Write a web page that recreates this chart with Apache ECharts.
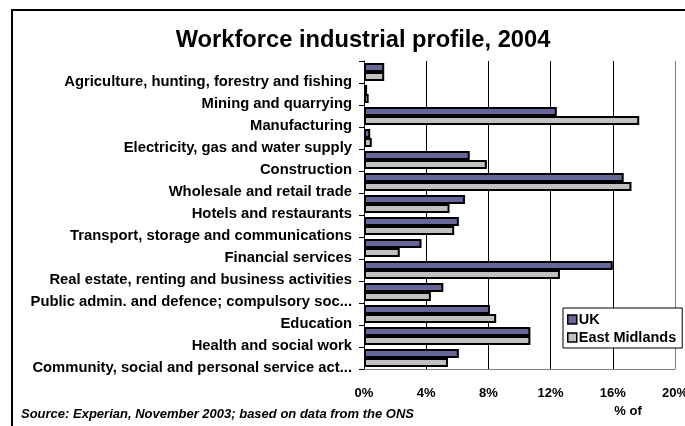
<!DOCTYPE html>
<html>
<head>
<meta charset="utf-8">
<script src="https://cdn.jsdelivr.net/npm/echarts@6/dist/echarts.min.js"></script>
<style>
  html, body { margin: 0; padding: 0; background: #fff; }
  #chart { width: 685px; height: 426px; }
</style>
</head>
<body>
<div id="chart"></div>
<script>
// Industries, listed top to bottom
const industries = [
  'Agriculture, hunting, forestry and fishing',
  'Mining and quarrying',
  'Manufacturing',
  'Electricity, gas and water supply',
  'Construction',
  'Wholesale and retail trade',
  'Hotels and restaurants',
  'Transport, storage and communications',
  'Financial services',
  'Real estate, renting and business activities',
  'Public admin. and defence; compulsory soc...',
  'Education',
  'Health and social work',
  'Community, social and personal service act...'
];

// Share of the workforce (%) by industry
const ukShare = [1.3, 0.2, 12.4, 0.4, 6.8, 16.7, 6.5, 6.1, 3.7, 16.0, 5.1, 8.1, 10.7, 6.1];
const eastMidlandsShare = [1.3, 0.3, 17.7, 0.5, 7.9, 17.2, 5.5, 5.8, 2.3, 12.6, 4.3, 8.5, 10.7, 5.4];

const seriesNames = ['UK', 'East Midlands'];
const xTicks = { min: 0, max: 20, interval: 4 };

const FONT = 'Liberation Sans, Arial, sans-serif';

const chart = echarts.init(document.getElementById('chart'), null, { renderer: 'canvas' });

chart.setOption({
  animation: false,
  backgroundColor: '#fff',
  title: {
    text: 'Workforce industrial profile, 2004',
    left: 358,
    top: 23,
    textAlign: 'center',
    textStyle: { fontFamily: FONT, fontSize: 23.7, fontWeight: 'bold', color: '#000' }
  },
  // plot area runs to the right edge; the last tick label is allowed to spill over
  grid: { left: 364, right: 10, top: 61, bottom: 57, containLabel: false, outerBoundsMode: 'none' },
  legend: {
    orient: 'vertical',
    left: 563,
    top: 308,
    width: 110,
    backgroundColor: '#fff',
    borderColor: '#000',
    borderWidth: 1,
    padding: [4, 6, 3, 4],
    itemWidth: 9,
    itemHeight: 9,
    itemGap: 3,
    icon: 'rect',
    align: 'left',
    itemStyle: { borderColor: '#000', borderWidth: 1.5 },
    textStyle: { fontFamily: FONT, fontSize: 14.5, fontWeight: 'bold', color: '#000', padding: [0, 0, 0, -3] },
    data: seriesNames
  },
  xAxis: {
    type: 'value',
    min: xTicks.min,
    max: xTicks.max,
    interval: xTicks.interval,
    axisLine: { show: true, lineStyle: { color: '#808080', width: 1 } },
    axisTick: { show: false },
    axisLabel: {
      margin: 18,
      formatter: '{value}%',
      fontFamily: FONT, fontSize: 13, fontWeight: 'bold', color: '#000'
    },
    splitLine: {
      show: true,
      lineStyle: { color: ['#000', '#000', '#000', '#000', '#000', '#808080'], width: 1 }
    }
  },
  yAxis: {
    type: 'category',
    inverse: true,
    data: industries,
    axisLine: { show: true, lineStyle: { color: '#000', width: 1 } },
    axisTick: { show: true, length: 5, lineStyle: { color: '#000' } },
    axisLabel: {
      margin: 12,
      verticalAlign: 'top',
      lineHeight: 20,
      fontFamily: FONT, fontSize: 14.8, fontWeight: 'bold', color: '#000'
    },
    splitLine: { show: false }
  },
  graphic: [
    {
      type: 'rect',
      shape: { x: 12, y: 10, width: 720, height: 480 },
      style: { fill: 'none', stroke: '#000', lineWidth: 2 },
      silent: true
    },
    {
      type: 'text',
      x: 628, y: 411,
      style: {
        text: '% of', align: 'center', verticalAlign: 'middle',
        fontFamily: FONT, fontSize: 13, fontWeight: 'bold', fill: '#000'
      }
    },
    {
      type: 'text',
      x: 21, y: 414,
      style: {
        text: 'Source: Experian, November 2003; based on data from the ONS',
        align: 'left', verticalAlign: 'middle',
        fontFamily: FONT, fontSize: 13, fontWeight: 'bold', fontStyle: 'italic', fill: '#000'
      }
    }
  ],
  series: [
    {
      name: seriesNames[0],
      type: 'bar',
      data: ukShare,
      barGap: '0%',
      barCategoryGap: '18%',
      itemStyle: { color: '#666699', borderColor: '#000', borderWidth: 2 }
    },
    {
      name: seriesNames[1],
      type: 'bar',
      data: eastMidlandsShare,
      barGap: '0%',
      barCategoryGap: '18%',
      itemStyle: { color: '#C0C0C0', borderColor: '#000', borderWidth: 2 }
    }
  ]
});
</script>
</body>
</html>
